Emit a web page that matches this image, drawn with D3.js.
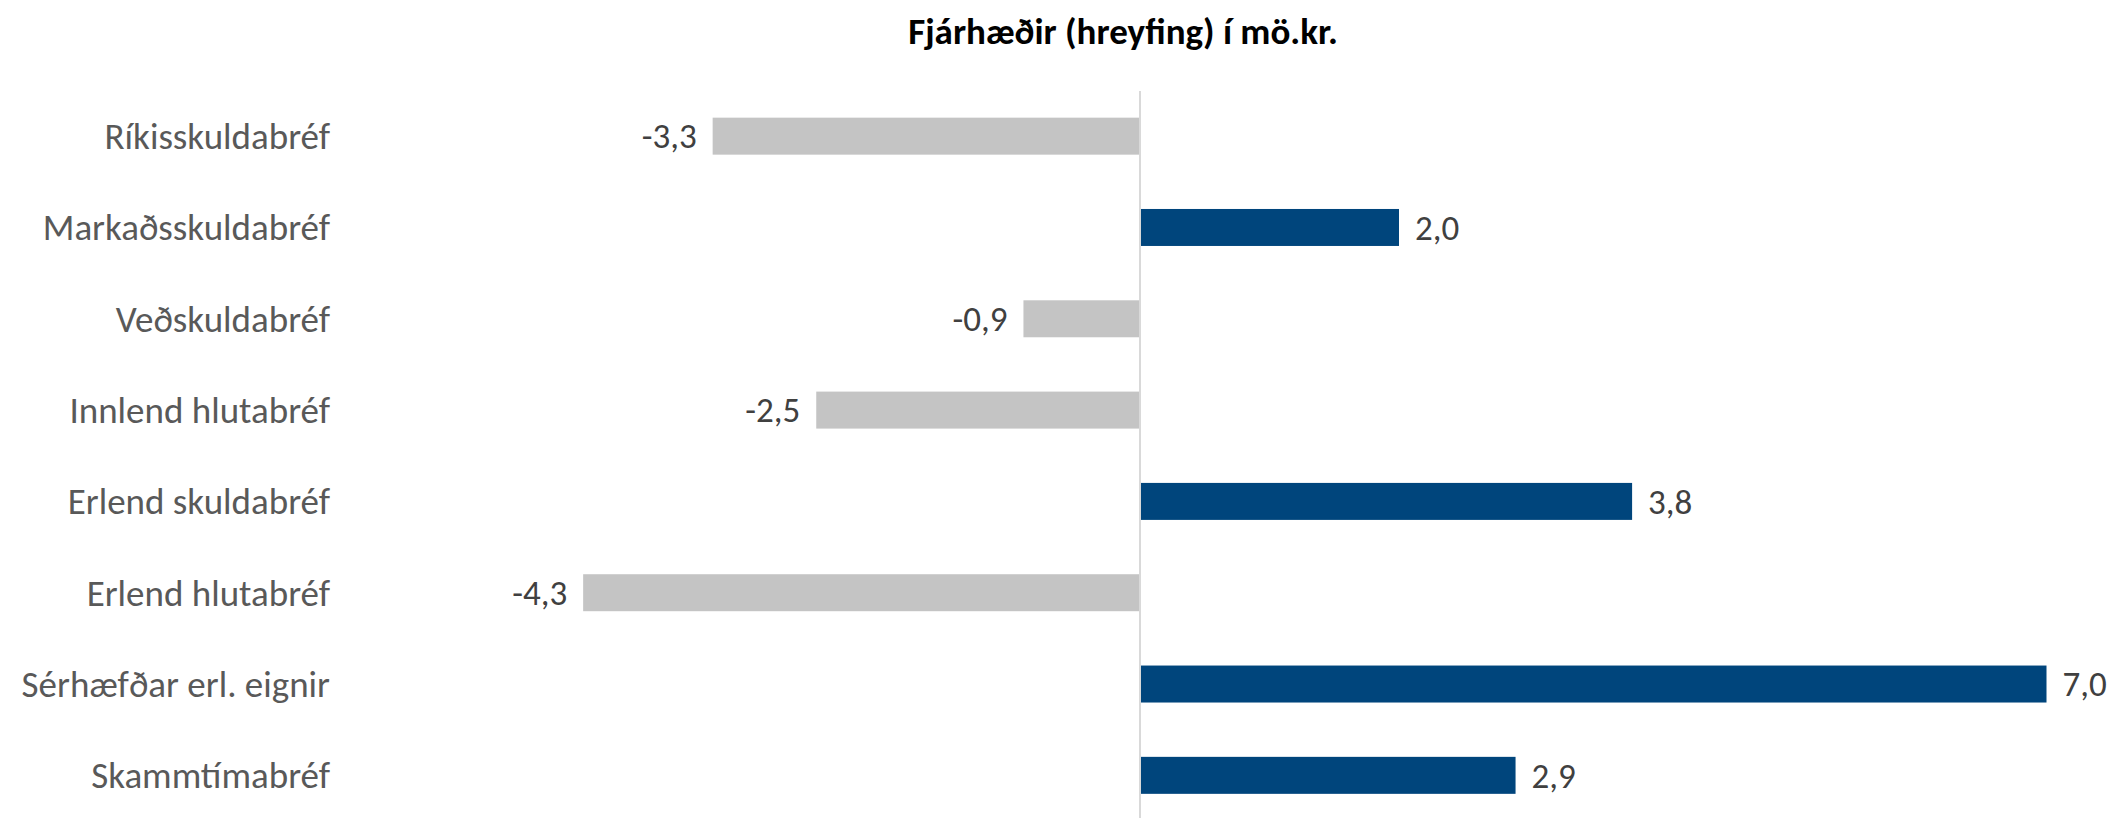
<!DOCTYPE html>
<html>
<head>
<meta charset="utf-8">
<script src="https://cdn.jsdelivr.net/npm/d3@7"></script>
<style>
  html, body { margin: 0; padding: 0; background: #fff; }
  svg { display: block; }
  text { font-family: Carlito, Calibri, Lato, "Noto Sans", sans-serif; }
</style>
</head>
<body>
<svg id="chart" width="2126" height="818"></svg>
<script>
const title = "Fjárhæðir (hreyfing) í mö.kr.";
const categories = [
  "Ríkisskuldabréf",
  "Markaðsskuldabréf",
  "Veðskuldabréf",
  "Innlend hlutabréf",
  "Erlend skuldabréf",
  "Erlend hlutabréf",
  "Sérhæfðar erl. eignir",
  "Skammtímabréf"
];
const values = [-3.3, 2.0, -0.9, -2.5, 3.8, -4.3, 7.0, 2.9];
const xDomain = [-5, 7];

const W = 2126, H = 818;
const svg = d3.select("#chart");

const x = d3.scaleLinear().domain(xDomain).range([492.5, 2046.5]);
const y = d3.scaleBand().domain(categories).range([90.5, 821]).paddingInner(0.595).paddingOuter(0.2975);

const fmt = v => d3.format(".1f")(v).replace(".", ",").replace("−", "-");

// title
svg.append("text")
  .attr("x", 1123).attr("y", 44)
  .attr("text-anchor", "middle")
  .attr("font-weight", "bold")
  .attr("font-size", 37)
  .attr("fill", "#000")
  .text(title);

// bars
svg.append("g").selectAll("rect")
  .data(values)
  .join("rect")
  .attr("x", d => x(Math.min(0, d)))
  .attr("width", d => Math.abs(x(d) - x(0)))
  .attr("y", (d, i) => y(categories[i]))
  .attr("height", y.bandwidth())
  .attr("fill", d => d < 0 ? "#C4C4C4" : "#00457C");

// zero axis line
svg.append("line")
  .attr("x1", x(0)).attr("x2", x(0))
  .attr("y1", 91).attr("y2", H)
  .attr("stroke", "#D9D9D9").attr("stroke-width", 2);

// category labels
svg.append("g").selectAll("text")
  .data(categories)
  .join("text")
  .attr("x", 330)
  .attr("y", d => y(d) + y.bandwidth() / 2)
  .attr("dy", "0.35em")
  .attr("text-anchor", "end")
  .attr("font-size", 37)
  .attr("fill", "#595959")
  .text(d => d);

// data labels
svg.append("g").selectAll("text")
  .data(values)
  .join("text")
  .attr("x", d => d < 0 ? x(d) - 16 : x(d) + 16)
  .attr("y", (d, i) => y(categories[i]) + y.bandwidth() / 2)
  .attr("dy", "0.35em")
  .attr("text-anchor", d => d < 0 ? "end" : "start")
  .attr("font-size", 35)
  .attr("fill", "#404040")
  .text(d => fmt(d));
</script>
</body>
</html>
